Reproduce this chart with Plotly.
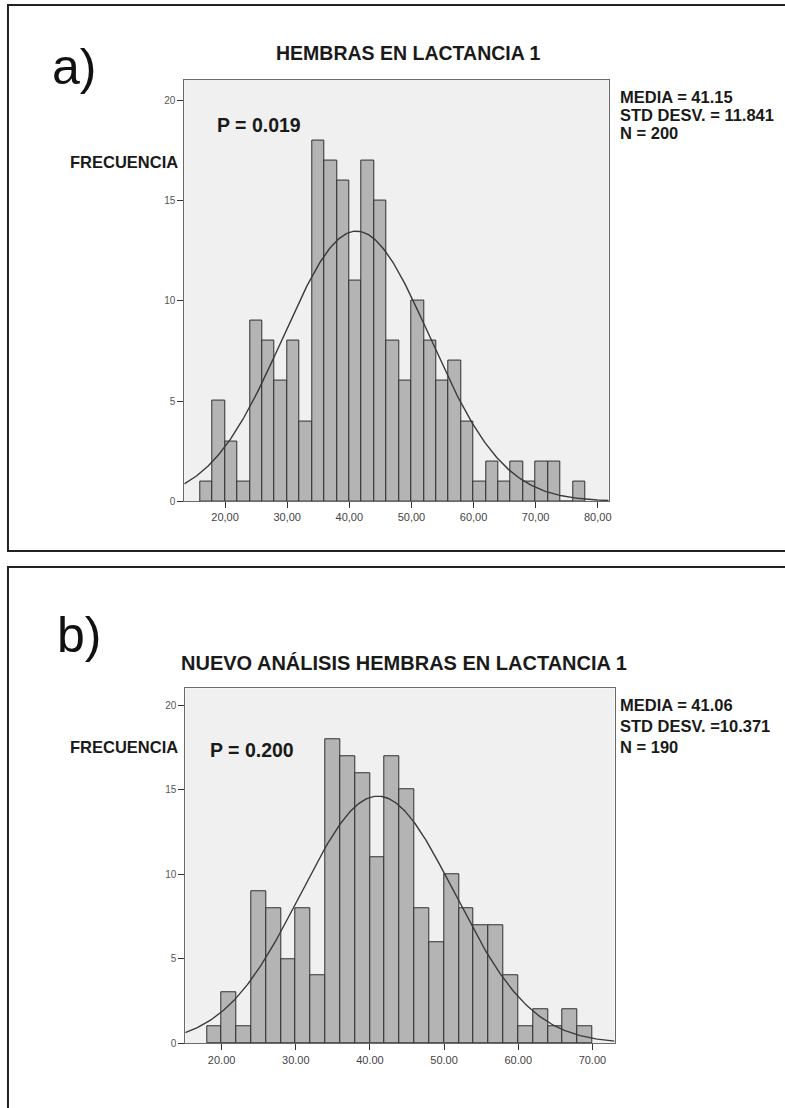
import numpy as np
import plotly.graph_objects as go

W, H = 785, 1108

# ---------------- data ----------------
bin_width = 2
# Panel a
a_bin_starts = [16, 18, 20, 22, 24, 26, 28, 30, 32, 34, 36, 38, 40, 42, 44, 46, 48, 50,
                52, 54, 56, 58, 60, 62, 64, 66, 68, 70, 72, 74, 76]
a_counts = [1, 5, 3, 1, 9, 8, 6, 8, 4, 18, 17, 16, 11, 17, 15, 8, 6, 10,
            8, 6, 7, 4, 1, 2, 1, 2, 1, 2, 2, 0, 1]
a_mean, a_std, a_n = 41.15, 11.841, 200
a_title = "HEMBRAS EN LACTANCIA 1"
a_p = "P = 0.019"
a_xticks = [20, 30, 40, 50, 60, 70, 80]
a_xticktext = ["20,00", "30,00", "40,00", "50,00", "60,00", "70,00", "80,00"]

# Panel b
b_bin_starts = [18, 20, 22, 24, 26, 28, 30, 32, 34, 36, 38, 40, 42, 44, 46, 48, 50,
                52, 54, 56, 58, 60, 62, 64, 66, 68]
b_counts = [1, 3, 1, 9, 8, 5, 8, 4, 18, 17, 16, 11, 17, 15, 8, 6, 10,
            8, 7, 7, 4, 1, 2, 1, 2, 1]
b_mean, b_std, b_n = 41.06, 10.371, 190
b_title = "NUEVO ANÁLISIS HEMBRAS EN LACTANCIA 1"
b_p = "P = 0.200"
b_xticks = [20, 30, 40, 50, 60, 70]
b_xticktext = ["20.00", "30.00", "40.00", "50.00", "60.00", "70.00"]

y_ticks = [0, 5, 10, 15, 20]
y_ticktext = ["0", "5", "10", "15", "20"]

# ---------------- helpers ----------------
def px(x):
    return x / W

def py(y):
    return 1 - y / H

FONT = "Liberation Sans, Arial, sans-serif"
BAR_FILL = "#b4b4b4"
BAR_LINE = "#303030"
CURVE = "#3a3a3a"

fig = go.Figure()

def add_panel(starts, counts, mean, std, n, xr, xa, ya):
    centers = [s + bin_width / 2 for s in starts]
    fig.add_trace(go.Bar(
        x=centers, y=counts, width=bin_width,
        marker=dict(color=BAR_FILL, line=dict(color=BAR_LINE, width=1)),
        xaxis=xa, yaxis=ya, showlegend=False, hoverinfo="x+y"))
    # fitted normal curve scaled to counts (N * bin width * pdf)
    xs = np.linspace(xr[0], xr[1], 300)
    ys = n * bin_width * np.exp(-0.5 * ((xs - mean) / std) ** 2) / (std * np.sqrt(2 * np.pi))
    fig.add_trace(go.Scatter(
        x=xs, y=ys, mode="lines", line=dict(color=CURVE, width=1.4),
        xaxis=xa, yaxis=ya, showlegend=False, hoverinfo="skip"))

a_xrange = [13.43, 81.76]
b_xrange = [15.1, 73.0]
add_panel(a_bin_starts, a_counts, a_mean, a_std, a_n, a_xrange, "x", "y")
add_panel(b_bin_starts, b_counts, b_mean, b_std, b_n, b_xrange, "x2", "y2")

axis_common = dict(
    showgrid=False, zeroline=False, showline=True, mirror=True,
    linecolor="#6a6a6a", linewidth=1, ticks="outside", tickcolor="#333333",
    ticklen=6, tickwidth=1,
)

fig.update_layout(
    width=W, height=H, autosize=False,
    margin=dict(l=0, r=0, t=0, b=0),
    paper_bgcolor="white", plot_bgcolor="#f0f0f0",
    bargap=0,
    xaxis=dict(domain=[px(185), px(611)], range=a_xrange, anchor="y",
               tickvals=a_xticks, ticktext=a_xticktext,
               tickfont=dict(family=FONT, size=11, color="#444444"), **axis_common),
    yaxis=dict(domain=[py(504), py(80)], range=[0, 21.04], anchor="x",
               tickvals=y_ticks, ticktext=y_ticktext,
               tickfont=dict(family=FONT, size=10, color="#555555"), **axis_common),
    xaxis2=dict(domain=[px(186), px(617)], range=b_xrange, anchor="y2",
                tickvals=b_xticks, ticktext=b_xticktext,
                tickfont=dict(family=FONT, size=11, color="#444444"), **axis_common),
    yaxis2=dict(domain=[py(1049), py(692)], range=[0, 21.0], anchor="x2",
                tickvals=y_ticks, ticktext=y_ticktext,
                tickfont=dict(family=FONT, size=10, color="#555555"), **axis_common),
)

# panel frames (extend past the right / bottom page edges like the reference)
fig.add_shape(type="rect", xref="paper", yref="paper",
              x0=px(8), x1=px(810), y0=py(554), y1=py(5),
              line=dict(color="#222222", width=2), layer="below")
fig.add_shape(type="rect", xref="paper", yref="paper",
              x0=px(8), x1=px(810), y0=py(1130), y1=py(570),
              line=dict(color="#222222", width=2), layer="below")

def ann(text, x, y, size, bold=True, xanchor="left", yanchor="middle", color="#1a1a1a"):
    t = f"<b>{text}</b>" if bold else text
    fig.add_annotation(text=t, x=px(x), y=py(y), xref="paper", yref="paper",
                       xanchor=xanchor, yanchor=yanchor, showarrow=False,
                       font=dict(family=FONT, size=size, color=color))

# Panel a texts
ann("a)", 50, 67, 50, bold=False, color="#111111")
ann(a_title, 410, 53, 19.5, xanchor="center")
ann(a_p, 216, 126, 19.5)
ann("FRECUENCIA", 68, 163, 16.5)
ann(f"MEDIA = {a_mean:.2f}", 620, 98, 16.5)
ann(f"STD DESV. = {a_std:.3f}", 620, 116, 16.5)
ann(f"N = {a_n}", 620, 134, 16.5)

# Panel b texts
ann("b)", 55, 638, 50, bold=False, color="#111111")
ann(b_title, 406, 667, 20, xanchor="center")
ann(b_p, 209, 754, 19.5)
ann("FRECUENCIA", 68, 751, 16.5)
ann(f"MEDIA = {b_mean:.2f}", 620, 709, 16.5)
ann(f"STD DESV. ={b_std:.3f}", 620, 730, 16.5)
ann(f"N = {b_n}", 620, 751, 16.5)

fig.write_html(
    "out.html",
    config={"displayModeBar": False},
    post_script="document.body.style.margin='0';document.body.style.overflow='hidden';",
)
